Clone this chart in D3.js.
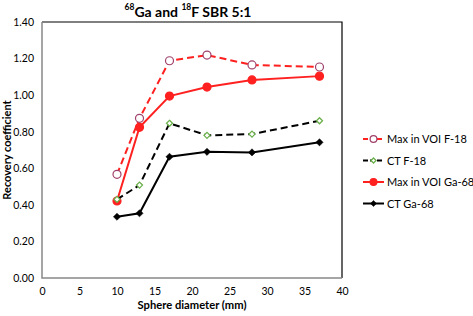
<!DOCTYPE html>
<html>
<head>
<meta charset="utf-8">
<script src="https://cdn.jsdelivr.net/npm/d3@7"></script>
<style>
  body { margin: 0; background: #fff; }
  svg { font-family: Lato, "Open Sans", sans-serif; }
</style>
</head>
<body>
<div id="chart"></div>
<script>
const diameters = [10, 13, 17, 22, 28, 37];
const maxF18 = [0.567, 0.873, 1.188, 1.219, 1.165, 1.154];
const ctF18 = [0.43, 0.508, 0.846, 0.780, 0.787, 0.860];
const maxGa68 = [0.421, 0.824, 0.995, 1.044, 1.083, 1.104];
const ctGa68 = [0.335, 0.354, 0.663, 0.690, 0.687, 0.742];
const xTicks = [0, 5, 10, 15, 20, 25, 30, 35, 40];
const yTicks = [0, 0.2, 0.4, 0.6, 0.8, 1.0, 1.2, 1.4];

const series = [
    {name: "Max in VOI F-18", values: maxF18, color: "#ff2020", dash: "7,4", marker: "circle", fill: "#fff", stroke: "#a0406a"},
    {name: "CT F-18", values: ctF18, color: "#000", dash: "7,4", marker: "diamond", fill: "#fff", stroke: "#6ab04a"},
    {name: "Max in VOI Ga-68", values: maxGa68, color: "#ff2020", dash: null, marker: "circle", fill: "#ff2020", stroke: "#ff2020"},
    {name: "CT Ga-68", values: ctGa68, color: "#000", dash: null, marker: "diamond", fill: "#000", stroke: "#000"}
];

const wSvg = 473, hSvg = 316;
const margin = {left: 42, right: 131, top: 22, bottom: 38};

const svg = d3.select("#chart").append("svg")
    .attr("width", wSvg)
    .attr("height", hSvg);

const xScale = d3.scaleLinear().domain([0, 40]).range([margin.left, wSvg - margin.right]);
const yScale = d3.scaleLinear().domain([0, 1.4]).range([hSvg - margin.bottom, margin.top]);

// frame: top/right black, left/bottom grey
const x0 = xScale(0), x1 = xScale(40), y0 = yScale(0), y1 = yScale(1.4);
svg.append("path").attr("d", `M${x0},${y1}H${x1}V${y0}`).attr("fill", "none").attr("stroke", "#000").attr("stroke-width", 1.2);
svg.append("path").attr("d", `M${x0},${y1}V${y0}H${x1}`).attr("fill", "none").attr("stroke", "#888").attr("stroke-width", 1.5);

// axes
const yAxis = svg.append("g")
    .attr("transform", `translate(${x0},0)`)
    .call(d3.axisLeft(yScale).tickValues(yTicks).tickSize(0).tickPadding(8).tickFormat(d3.format(".2f")));
const xAxis = svg.append("g")
    .attr("transform", `translate(0,${y0})`)
    .call(d3.axisBottom(xScale).tickValues(xTicks).tickSize(0).tickPadding(10).tickFormat(d3.format("d")));
[xAxis, yAxis].forEach(a => {
    a.select(".domain").remove();
    a.selectAll("text").attr("font-size", 10.5).attr("fill", "#000").attr("font-family", "Lato, sans-serif");
});

// title
const title = svg.append("text")
    .attr("x", 188).attr("y", 17)
    .attr("text-anchor", "middle")
    .attr("font-weight", "bold")
    .attr("font-size", 14);
title.append("tspan").text("68").attr("font-size", 8.5).attr("dy", -7);
title.append("tspan").text("Ga and ").attr("dy", 7);
title.append("tspan").text("18").attr("font-size", 8.5).attr("dy", -7);
title.append("tspan").text("F SBR 5:1").attr("dy", 7);

svg.append("text")
    .attr("x", 192).attr("y", 309)
    .attr("text-anchor", "middle")
    .attr("font-weight", "bold")
    .attr("font-size", 11.2)
    .text("Sphere diameter (mm)");

svg.append("text")
    .attr("transform", `translate(11,${(y0 + y1) / 2}) rotate(-90)`)
    .attr("text-anchor", "middle")
    .attr("font-weight", "bold")
    .attr("font-size", 11)
    .text("Recovery coefficient");

const line = d3.line()
    .x((d, i) => xScale(diameters[i]))
    .y(d => yScale(d));

function drawMarker(g, s, x, y, scale = 1) {
    if (s.marker === "circle") {
        g.append("circle").attr("cx", x).attr("cy", y).attr("r", 4 * scale)
            .attr("fill", s.fill).attr("stroke", s.stroke).attr("stroke-width", 1.2);
    } else {
        const r = (s.fill === "#000" ? 3.6 : 3) * scale;
        g.append("path").attr("d", `M${x},${y - r}L${x + r},${y}L${x},${y + r}L${x - r},${y}Z`)
            .attr("fill", s.fill).attr("stroke", s.stroke).attr("stroke-width", s.fill === "#000" ? 0.5 : 1.3);
    }
}

// draw in reverse so Max F-18 sits on top
const plot = svg.append("g");
series.slice().reverse().forEach(s => {
    const g = plot.append("g");
    g.append("path")
        .attr("d", line(s.values))
        .attr("fill", "none")
        .attr("stroke", s.color)
        .attr("stroke-width", 2)
        .attr("stroke-dasharray", s.dash);
    s.values.forEach((v, i) => drawMarker(g, s, xScale(diameters[i]), yScale(v)));
});

// legend
const legend = svg.append("g");
series.forEach((s, i) => {
    const ly = 139 + i * 21.5;
    legend.append("line")
        .attr("x1", 363).attr("x2", 384).attr("y1", ly).attr("y2", ly)
        .attr("stroke", s.color).attr("stroke-width", 2)
        .attr("stroke-dasharray", s.dash ? "5,2" : null);
    drawMarker(legend, s, 373.5, ly, 0.85);
    legend.append("text")
        .attr("x", 387).attr("y", ly + 4)
        .attr("font-size", 11)
        .text(s.name);
});
</script>
</body>
</html>
